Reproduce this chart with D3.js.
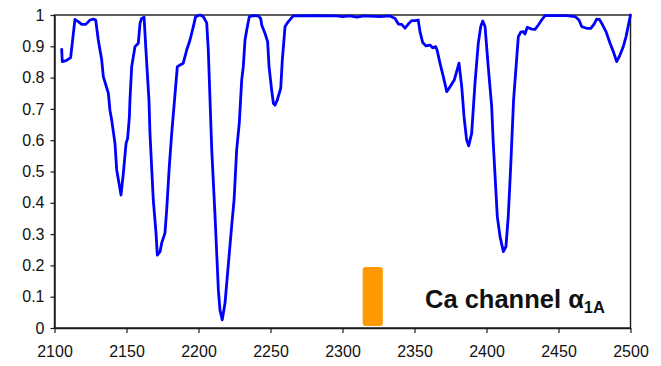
<!DOCTYPE html>
<html>
<head>
<meta charset="utf-8">
<script src="https://cdn.jsdelivr.net/npm/d3@7"></script>
<style>
  body { margin: 0; background: #fff; }
  svg { display: block; }
  text { font-family: "Liberation Sans", Arial, sans-serif; fill: #111; }
</style>
</head>
<body>
<svg id="chart" width="661" height="366"></svg>
<script>
// Sequence position along the channel and the profile value at each position
const position = [
  2105, 2105.4, 2108, 2111.2, 2114.2, 2116.5, 2118.9, 2121.7, 2124.7, 2127, 2128.6,
  2130.4, 2132.8, 2133.9, 2137.4, 2138.5, 2139.7, 2142, 2143.2, 2146.2, 2147.8,
  2149.7, 2150.8, 2152, 2152.4, 2153.6, 2155.9, 2158.2, 2159.4, 2160.5, 2162.2,
  2163.5, 2165.6, 2166.3, 2168.6, 2170.5, 2171.4, 2173.3, 2174.4, 2176.7, 2177.9,
  2179.7, 2181.4, 2183.2, 2185.3, 2187.2, 2189.4, 2191.8, 2194.1, 2196.4, 2198,
  2201, 2203.3, 2205.7, 2206.8, 2209.2, 2211.5, 2213.8, 2214.9, 2216.5, 2218.4,
  2221.4, 2223, 2224.7, 2226.5, 2228.3, 2230, 2231.1, 2232.3, 2233.5, 2235.3,
  2238, 2241.5, 2243.2, 2243.9, 2246.2, 2248, 2249, 2250.8, 2252, 2253.1,
  2254.7, 2257.1, 2258.2, 2260.1, 2262.4, 2265.8, 2280, 2296, 2300, 2305,
  2310, 2315, 2326, 2333, 2336.5, 2338.8, 2341.1, 2343.4, 2345.7, 2348,
  2350.3, 2352.6, 2353.8, 2355.7, 2358, 2360.8, 2362.6, 2364.7, 2365.8, 2367.7,
  2370, 2372.4, 2374.7, 2377.6, 2380.9, 2382.8, 2384.4, 2386.2, 2387.6, 2389.7,
  2392, 2394.3, 2396, 2397.4, 2399, 2401.2, 2403.6, 2404.6, 2405.6, 2407.5,
  2409.4, 2411.7, 2413.5, 2415.1, 2416.8, 2418.8, 2422.1, 2423.8, 2425.6, 2426.7,
  2428.3, 2431.4, 2433.7, 2436, 2438.3, 2440.6, 2455.7, 2461.5, 2464.2, 2466.1,
  2470, 2472.4, 2474.7, 2476.5, 2478.4, 2480.3, 2483, 2485.8, 2488.1, 2490.4,
  2492.7, 2495, 2496.9, 2500
];
const score = [
  0.890, 0.851, 0.854, 0.864, 0.986, 0.979, 0.970, 0.970, 0.984, 0.987, 0.984,
  0.920, 0.856, 0.803, 0.750, 0.696, 0.665, 0.590, 0.505, 0.425, 0.494,
  0.590, 0.606, 0.675, 0.728, 0.835, 0.899, 0.910, 0.973, 0.989, 0.993,
  0.888, 0.728, 0.622, 0.409, 0.303, 0.233, 0.244, 0.271, 0.303, 0.377,
  0.515, 0.622, 0.720, 0.835, 0.840, 0.846, 0.888, 0.920, 0.963, 0.995,
  1.000, 0.995, 0.975, 0.888, 0.569, 0.356, 0.121, 0.058, 0.026, 0.079,
  0.239, 0.324, 0.409, 0.569, 0.654, 0.792, 0.835, 0.920, 0.952, 0.995,
  0.998, 0.997, 0.989, 0.968, 0.941, 0.915, 0.835, 0.760, 0.718, 0.712,
  0.728, 0.766, 0.856, 0.963, 0.979, 0.997, 0.998, 0.997, 0.995, 0.997,
  0.993, 0.997, 0.995, 0.997, 0.989, 0.971, 0.970, 0.958, 0.971, 0.982,
  0.982, 0.984, 0.947, 0.912, 0.901, 0.904, 0.895, 0.899, 0.886, 0.846,
  0.803, 0.755, 0.771, 0.792, 0.846, 0.771, 0.675, 0.601, 0.582, 0.622,
  0.782, 0.910, 0.963, 0.981, 0.963, 0.835, 0.707, 0.600, 0.515, 0.356,
  0.292, 0.244, 0.260, 0.356, 0.515, 0.728, 0.931, 0.945, 0.947, 0.939,
  0.961, 0.955, 0.954, 0.968, 0.984, 0.998, 0.998, 0.995, 0.984, 0.963,
  0.957, 0.957, 0.971, 0.987, 0.986, 0.971, 0.947, 0.910, 0.883, 0.851,
  0.872, 0.899, 0.931, 1.000
];

// Axis ticks
const xTicks = [2100, 2150, 2200, 2250, 2300, 2350, 2400, 2450, 2500];
const yTicks = [0, 0.1, 0.2, 0.3, 0.4, 0.5, 0.6, 0.7, 0.8, 0.9, 1];
const yTickLabels = ["0", "0.1", "0.2", "0.3", "0.4", "0.5", "0.6", "0.7", "0.8", "0.9", "1"];

// Highlighted region (position span and value span)
const regionX = [2314, 2328];
const regionY = [0.006, 0.195];

// Annotation
const labelMain = "Ca channel α";
const labelSub = "1A";

const W = 661, H = 366;
const m = { left: 54.5, right: 30.5, top: 15, bottom: 38 };

const svg = d3.select("#chart");

const x = d3.scaleLinear().domain([2100, 2500]).range([m.left, W - m.right]);
const y = d3.scaleLinear().domain([0, 1]).range([H - m.bottom, m.top]);

// Plot frame
svg.append("rect")
  .attr("x", x(2100)).attr("y", y(1))
  .attr("width", x(2500) - x(2100)).attr("height", y(0) - y(1))
  .attr("fill", "none").attr("stroke", "#1a1a1a").attr("stroke-width", 1.4);

// Axes
const xAxis = d3.axisBottom(x).tickValues(xTicks).tickFormat(d3.format("d"))
  .tickSizeInner(5).tickSizeOuter(0).tickPadding(13);
const yAxis = d3.axisLeft(y).tickValues(yTicks)
  .tickFormat((d, i) => yTickLabels[i])
  .tickSizeInner(4).tickSizeOuter(0).tickPadding(6);

const gx = svg.append("g").attr("transform", `translate(0,${y(0)})`).call(xAxis);
const gy = svg.append("g").attr("transform", `translate(${x(2100)},0)`).call(yAxis);

[gx, gy].forEach(g => {
  g.select(".domain").attr("stroke", "#1a1a1a").attr("stroke-width", 1.4);
  g.selectAll(".tick line").attr("stroke", "#1a1a1a").attr("stroke-width", 1.2);
  g.selectAll(".tick text")
    .style("font-family", '"Liberation Sans", Arial, sans-serif')
    .style("font-size", "16px").attr("fill", "#111");
});

// Highlighted region bar
svg.append("rect")
  .attr("x", x(regionX[0])).attr("y", y(regionY[1]))
  .attr("width", x(regionX[1]) - x(regionX[0]))
  .attr("height", y(regionY[0]) - y(regionY[1]))
  .attr("rx", 3).attr("ry", 3)
  .attr("fill", "#ff9900");

// Profile line
const pts = position.map((p, i) => [p, score[i]]);
const line = d3.line().x(d => x(d[0])).y(d => y(d[1]));
svg.append("path")
  .datum(pts)
  .attr("d", line)
  .attr("fill", "none")
  .attr("stroke", "#0000ff")
  .attr("stroke-width", 2.8)
  .attr("stroke-linejoin", "round")
  .attr("stroke-linecap", "round");

// Annotation label
const t = svg.append("text")
  .attr("x", 425).attr("y", 308)
  .style("font-size", "25.5px").style("font-weight", "bold");
t.append("tspan").text(labelMain);
t.append("tspan").attr("dy", 5).style("font-size", "16.5px").text(labelSub);
</script>
</body>
</html>
